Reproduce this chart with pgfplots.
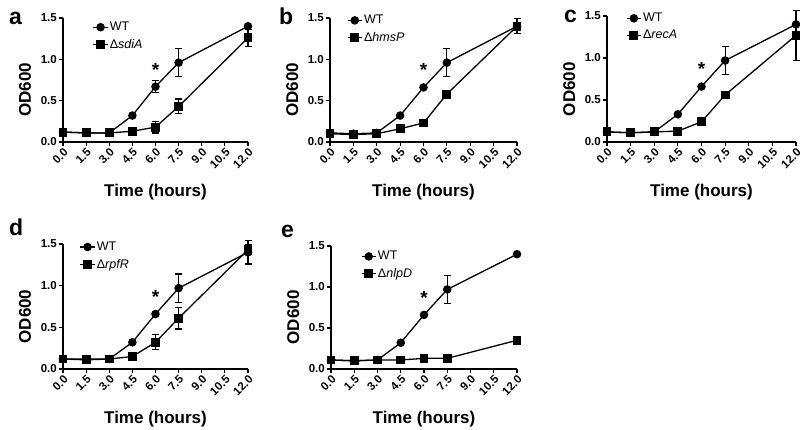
\documentclass[border=0pt]{standalone}
\usepackage{fontspec}
\setmainfont{Liberation Sans}
\usepackage{pgfplots}
\usepackage{pgfplotstable}
\pgfplotsset{compat=1.18}

\pgfplotstableread{
x y e
0 0.12 0
1.5 0.11 0
3 0.11 0
4.5 0.32 0
6 0.67 0.07
7.5 0.96 0.17
12 1.40 0
}\wtA
\pgfplotstableread{
x y e
0 0.12 0
1.5 0.11 0
3 0.11 0
4.5 0.13 0
6 0.18 0.07
7.5 0.43 0.09
12 1.26 0.10
}\mutA
\pgfplotstableread{
x y e
0 0.11 0
1.5 0.10 0
3 0.11 0
4.5 0.32 0
6 0.66 0
7.5 0.96 0.17
12 1.40 0
}\wtB
\pgfplotstableread{
x y e
0 0.10 0
1.5 0.09 0
3 0.10 0
4.5 0.16 0
6 0.23 0
7.5 0.58 0
12 1.40 0.09
}\mutB
\pgfplotstableread{
x y e
0 0.12 0
1.5 0.11 0
3 0.12 0
4.5 0.33 0
6 0.66 0
7.5 0.97 0.17
12 1.40 0
}\wtC
\pgfplotstableread{
x y e
0 0.12 0
1.5 0.11 0
3 0.12 0
4.5 0.13 0
6 0.24 0
7.5 0.56 0
12 1.27 0.30
}\mutC
\pgfplotstableread{
x y e
0 0.12 0
1.5 0.12 0
3 0.12 0
4.5 0.32 0
6 0.66 0
7.5 0.97 0.17
12 1.40 0.14
}\wtD
\pgfplotstableread{
x y e
0 0.12 0
1.5 0.11 0
3 0.12 0
4.5 0.15 0
6 0.32 0.09
7.5 0.61 0.13
12 1.43 0.06
}\mutD
\pgfplotstableread{
x y e
0 0.11 0
1.5 0.10 0
3 0.11 0
4.5 0.32 0
6 0.66 0
7.5 0.97 0.17
12 1.40 0
}\wtE
\pgfplotstableread{
x y e
0 0.11 0
1.5 0.10 0
3 0.11 0
4.5 0.11 0
6 0.13 0
7.5 0.13 0
12 0.35 0
}\mutE

\pgfplotsset{
  odstyle/.style={
    scale only axis,
    xmin=0, xmax=12, ymin=0, ymax=1.5,
    axis x line=bottom, axis y line=left,
    axis line style={-, line width=1.3pt},
    every outer x axis line/.append style={-},
    every outer y axis line/.append style={-},
    every inner x axis line/.append style={-},
    every inner y axis line/.append style={-},
    tick align=outside,
    major tick length=4pt,
    tick style={line width=1.2pt, black},
    xtick={0,1.5,3,4.5,6,7.5,9,10.5,12},
    xticklabels={0.0,1.5,3.0,4.5,6.0,7.5,9.0,10.5,12.0},
    ytick={0,0.5,1,1.5},
    yticklabels={0.0,0.5,1.0,1.5},
    xticklabel style={rotate=45, anchor=north east, inner sep=1pt, font=\bfseries\fontsize{11.5}{13}\selectfont},
    yticklabel style={font=\bfseries\fontsize{11.5}{13}\selectfont, inner sep=2pt},
    xlabel={Time (hours)},
    ylabel={OD600},
    label style={font=\bfseries\fontsize{17}{20}\selectfont},
    xlabel style={at={(axis description cs:0.5,0)}, anchor=base, yshift=-54pt, inner sep=0pt},
    ylabel style={at={(axis description cs:0,0.42)}, anchor=base, rotate=0, yshift=32pt, inner sep=0pt},
    clip=false,
    legend cell align=left,
    legend style={draw=none, fill=none, inner sep=0pt, row sep=4pt,
      font=\fontsize{12.5}{14}\selectfont, anchor=north west,
      nodes={inner sep=1.5pt},
      /tikz/every even column/.append style={column sep=3pt}},
    legend image code/.code={\draw[mark repeat=2,mark phase=2,##1] plot coordinates {(0cm,0cm) (0.25cm,0cm) (0.5cm,0cm)};},
  },
  wt/.style={black, line width=1.3pt, mark=*, mark size=3.6pt, mark options={solid},
    error bars/.cd, y dir=both, y explicit,
    error bar style={line width=1.2pt},
    error mark options={rotate=90, mark size=3.5pt, line width=1.2pt}},
  mut/.style={black, line width=1.3pt, mark=square*, mark size=3.8pt, mark options={solid},
    error bars/.cd, y dir=both, y explicit,
    error bar style={line width=1.2pt},
    error mark options={rotate=90, mark size=3.5pt, line width=1.2pt}},
}

\newcommand{\sigstar}{\node[anchor=north, inner sep=0pt, font=\bfseries\fontsize{19}{20}\selectfont] at (axis cs:6,0.95) {*};}

\begin{document}
\begin{tikzpicture}
\path[use as bounding box] (0,0) rectangle (800pt,429pt);

% panel letters
\node[anchor=base west, inner sep=0pt, font=\bfseries\fontsize{23}{24}\selectfont] at (9pt,404pt) {a};
\node[anchor=base west, inner sep=0pt, font=\bfseries\fontsize{23}{24}\selectfont] at (279pt,404pt) {b};
\node[anchor=base west, inner sep=0pt, font=\bfseries\fontsize{23}{24}\selectfont] at (564pt,406pt) {c};
\node[anchor=base west, inner sep=0pt, font=\bfseries\fontsize{23}{24}\selectfont] at (9pt,194pt) {d};
\node[anchor=base west, inner sep=0pt, font=\bfseries\fontsize{23}{24}\selectfont] at (281pt,192pt) {e};

\begin{axis}[odstyle, width=185pt, height=124pt, at={(63pt,287pt)}, anchor=south west,
  legend style={at={(axis description cs:0.16,0.98)}}]
\addplot[wt] table[x=x,y=y,y error=e] {\wtA};
\addlegendentry{WT}
\addplot[mut] table[x=x,y=y,y error=e] {\mutA};
\addlegendentry{Δ\textit{sdiA}}
\sigstar
\end{axis}

\begin{axis}[odstyle, width=187pt, height=124pt, at={(330pt,287pt)}, anchor=south west,
  legend style={at={(axis description cs:0.09,1.035)}}]
\addplot[wt] table[x=x,y=y,y error=e] {\wtB};
\addlegendentry{WT}
\addplot[mut] table[x=x,y=y,y error=e] {\mutB};
\addlegendentry{Δ\textit{hmsP}}
\sigstar
\end{axis}

\begin{axis}[odstyle, width=189pt, height=126pt, at={(607pt,287pt)}, anchor=south west,
  legend style={at={(axis description cs:0.10,1.035)}}]
\addplot[wt] table[x=x,y=y,y error=e] {\wtC};
\addlegendentry{WT}
\addplot[mut] table[x=x,y=y,y error=e] {\mutC};
\addlegendentry{Δ\textit{recA}}
\sigstar
\end{axis}

\begin{axis}[odstyle, width=185pt, height=125pt, at={(63pt,60pt)}, anchor=south west,
  legend style={at={(axis description cs:0.09,1.03)}}]
\addplot[wt] table[x=x,y=y,y error=e] {\wtD};
\addlegendentry{WT}
\addplot[mut] table[x=x,y=y,y error=e] {\mutD};
\addlegendentry{Δ\textit{rpfR}}
\sigstar
\end{axis}

\begin{axis}[odstyle, width=186pt, height=123pt, at={(331pt,60pt)}, anchor=south west,
  legend style={at={(axis description cs:0.16,0.97)}}]
\addplot[wt] table[x=x,y=y,y error=e] {\wtE};
\addlegendentry{WT}
\addplot[mut] table[x=x,y=y,y error=e] {\mutE};
\addlegendentry{Δ\textit{nlpD}}
\sigstar
\end{axis}
\end{tikzpicture}
\end{document}
